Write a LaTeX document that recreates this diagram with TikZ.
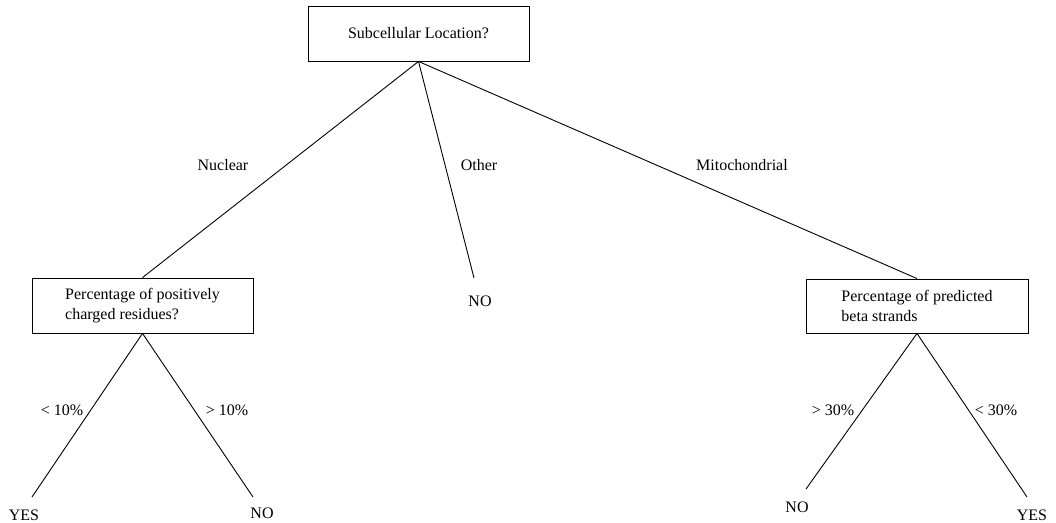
\documentclass[tikz,border=0pt]{standalone}
\usepackage{fontspec}
\setmainfont{Liberation Serif}
\begin{document}
\begin{tikzpicture}[x=1pt,y=-1pt,
  every node/.style={font=\fontsize{16}{20}\selectfont, inner sep=0pt},
  question/.style={draw, line width=0.9pt, align=left},
  branch/.style={line width=0.9pt},
  leaf/.style={},
  edgelabel/.style={}]
\useasboundingbox (0,0) rectangle (1056,522);

% decision nodes
\node[question, minimum width=221pt, minimum height=55pt] (root) at (418.5,33.5) {Subcellular Location?};
\node[question, minimum width=221pt, minimum height=55pt] (charge) at (142.5,305.5)
  {Percentage of positively\\charged residues?};
\node[question, minimum width=222pt, minimum height=54pt] (beta) at (917,306)
  {Percentage of predicted\\beta strands};

% free ends of the leaf branches
\coordinate (otherEnd) at (474,278);
\coordinate (yesLEnd) at (32,497);
\coordinate (noLEnd) at (253,497);
\coordinate (noREnd) at (806,489);
\coordinate (yesREnd) at (1027,497);

% leaves
\node[leaf] (noMid) at (480,301) {NO};
\node[leaf] (yesL) at (24,515) {YES};
\node[leaf] (noL) at (262,513) {NO};
\node[leaf] (noR) at (797,507) {NO};
\node[leaf] (yesR) at (1032,515) {YES};

% branches
\draw[branch] (root.south) -- (charge.north);
\draw[branch] (root.south) -- (otherEnd);
\draw[branch] (root.south) -- (beta.north);
\draw[branch] (charge.south) -- (yesLEnd);
\draw[branch] (charge.south) -- (noLEnd);
\draw[branch] (beta.south) -- (noREnd);
\draw[branch] (beta.south) -- (yesREnd);

% branch labels
\node[edgelabel] (lNuclear) at (223,165) {Nuclear};
\node[edgelabel] (lOther) at (479,165) {Other};
\node[edgelabel] (lMito) at (742,165) {Mitochondrial};
\node[edgelabel] (lLt10) at (62,410) {< 10\%};
\node[edgelabel] (lGt10) at (227,410) {> 10\%};
\node[edgelabel] (lGt30) at (833,410) {> 30\%};
\node[edgelabel] (lLt30) at (996,410) {< 30\%};
\end{tikzpicture}
\end{document}
